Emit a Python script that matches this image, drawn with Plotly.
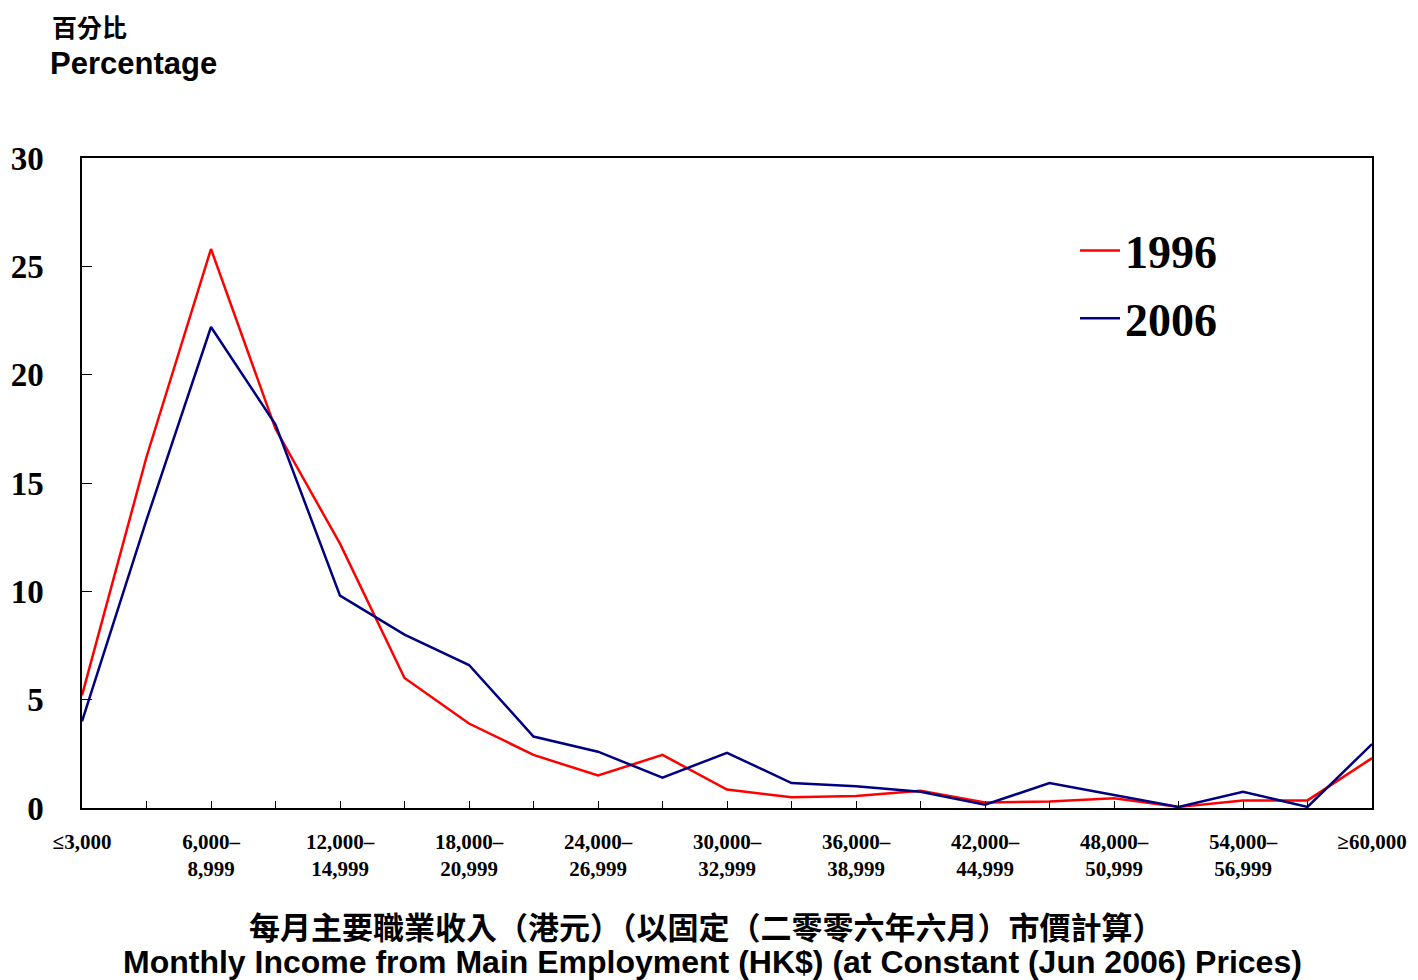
import plotly.graph_objects as go

categories = ["≤3,000", "3,000–5,999", "6,000–8,999", "9,000–11,999", "12,000–14,999",
              "15,000–17,999", "18,000–20,999", "21,000–23,999", "24,000–26,999",
              "27,000–29,999", "30,000–32,999", "33,000–35,999", "36,000–38,999",
              "39,000–41,999", "42,000–44,999", "45,000–47,999", "48,000–50,999",
              "51,000–53,999", "54,000–56,999", "57,000–59,999", "≥60,000"]
tick_labels = ["≤3,000", "", "6,000–<br>8,999", "", "12,000–<br>14,999", "",
               "18,000–<br>20,999", "", "24,000–<br>26,999", "", "30,000–<br>32,999", "",
               "36,000–<br>38,999", "", "42,000–<br>44,999", "", "48,000–<br>50,999", "",
               "54,000–<br>56,999", "", "≥60,000"]
pct_1996 = [5.2, 16.2, 25.8, 17.5, 12.2, 6.0, 3.9, 2.45, 1.5, 2.45, 0.85, 0.5, 0.55,
            0.8, 0.25, 0.3, 0.45, 0.05, 0.35, 0.35, 2.3]
pct_2006 = [4.0, 13.3, 22.2, 17.7, 9.8, 8.0, 6.6, 3.3, 2.6, 1.4, 2.55, 1.15, 1.0,
            0.75, 0.15, 1.15, 0.6, 0.05, 0.75, 0.05, 2.95]

x_idx = list(range(len(categories)))

fig = go.Figure()
fig.add_trace(go.Scatter(x=x_idx, y=pct_1996, mode="lines", name="1996", legendgroup="a",
                         line=dict(color="#FF0000", width=2.5), text=categories))
fig.add_trace(go.Scatter(x=x_idx, y=pct_2006, mode="lines", name="2006", legendgroup="b",
                         line=dict(color="#000080", width=2.5), text=categories))

OFF = 8  # page body margin
W, H = 1418 - 2 * OFF, 980 - OFF
# plot area in page pixels: x 82..1372, y 158..808
L = 82 - OFF
T = 158 - OFF
R = W - (1372 - OFF)
B = H - (808 - OFF)
pw, ph = W - L - R, H - T - B

def px(x):
    return (x - OFF - L) / pw

def py(y):
    return (H - B - (y - OFF)) / ph

fig.update_layout(
    width=W, height=H,
    margin=dict(l=L, r=R, t=T, b=B, autoexpand=False),
    plot_bgcolor="white", paper_bgcolor="white",
    showlegend=True,
    legend=dict(x=px(1075), y=py(214), xanchor="left", yanchor="top",
                font=dict(family="Liberation Serif", size=46, color="black", weight="bold"),
                bgcolor="rgba(0,0,0,0)", itemwidth=40, tracegroupgap=5),
    xaxis=dict(range=[0, 20], tickmode="array", tickvals=x_idx, ticktext=tick_labels,
               ticks="inside", ticklen=7, tickcolor="black", tickwidth=1,
               showline=True, linecolor="black", linewidth=1.5, mirror=True,
               showgrid=False, zeroline=False, ticklabelstandoff=14, automargin=False,
               tickfont=dict(family="Liberation Serif", size=21, color="black", weight="bold")),
    yaxis=dict(range=[0, 30], tickvals=[0, 5, 10, 15, 20, 25, 30],
               ticks="inside", ticklen=10, tickcolor="black", tickwidth=1,
               showline=True, linecolor="black", linewidth=1.5, mirror=True,
               showgrid=False, zeroline=False, ticklabelstandoff=30, automargin=False,
               tickfont=dict(family="Liberation Serif", size=33, color="black", weight="bold")),
)

fig.add_annotation(text="百分比", xref="paper", yref="paper", x=px(50), y=py(26),
                   xanchor="left", yanchor="middle", showarrow=False,
                   font=dict(family="Noto Sans CJK TC", size=25, color="black", weight="bold"))
fig.add_annotation(text="Percentage", xref="paper", yref="paper", x=px(48), y=py(63),
                   xanchor="left", yanchor="middle", showarrow=False,
                   font=dict(family="Liberation Sans", size=31, color="black", weight="bold"))
fig.add_annotation(text="每月主要職業收入（港元）（以固定（二零零六年六月）市價計算）",
                   xref="paper", yref="paper", x=px(706), y=py(926),
                   xanchor="center", yanchor="middle", showarrow=False,
                   font=dict(family="Noto Sans CJK TC", size=31, color="black", weight="bold"))
fig.add_annotation(text="Monthly Income from Main Employment (HK$) (at Constant (Jun 2006) Prices)",
                   xref="paper", yref="paper", x=px(712), y=py(962),
                   xanchor="center", yanchor="middle", showarrow=False,
                   font=dict(family="Liberation Sans", size=32, color="black", weight="bold"))

fig.write_html("out.html")
